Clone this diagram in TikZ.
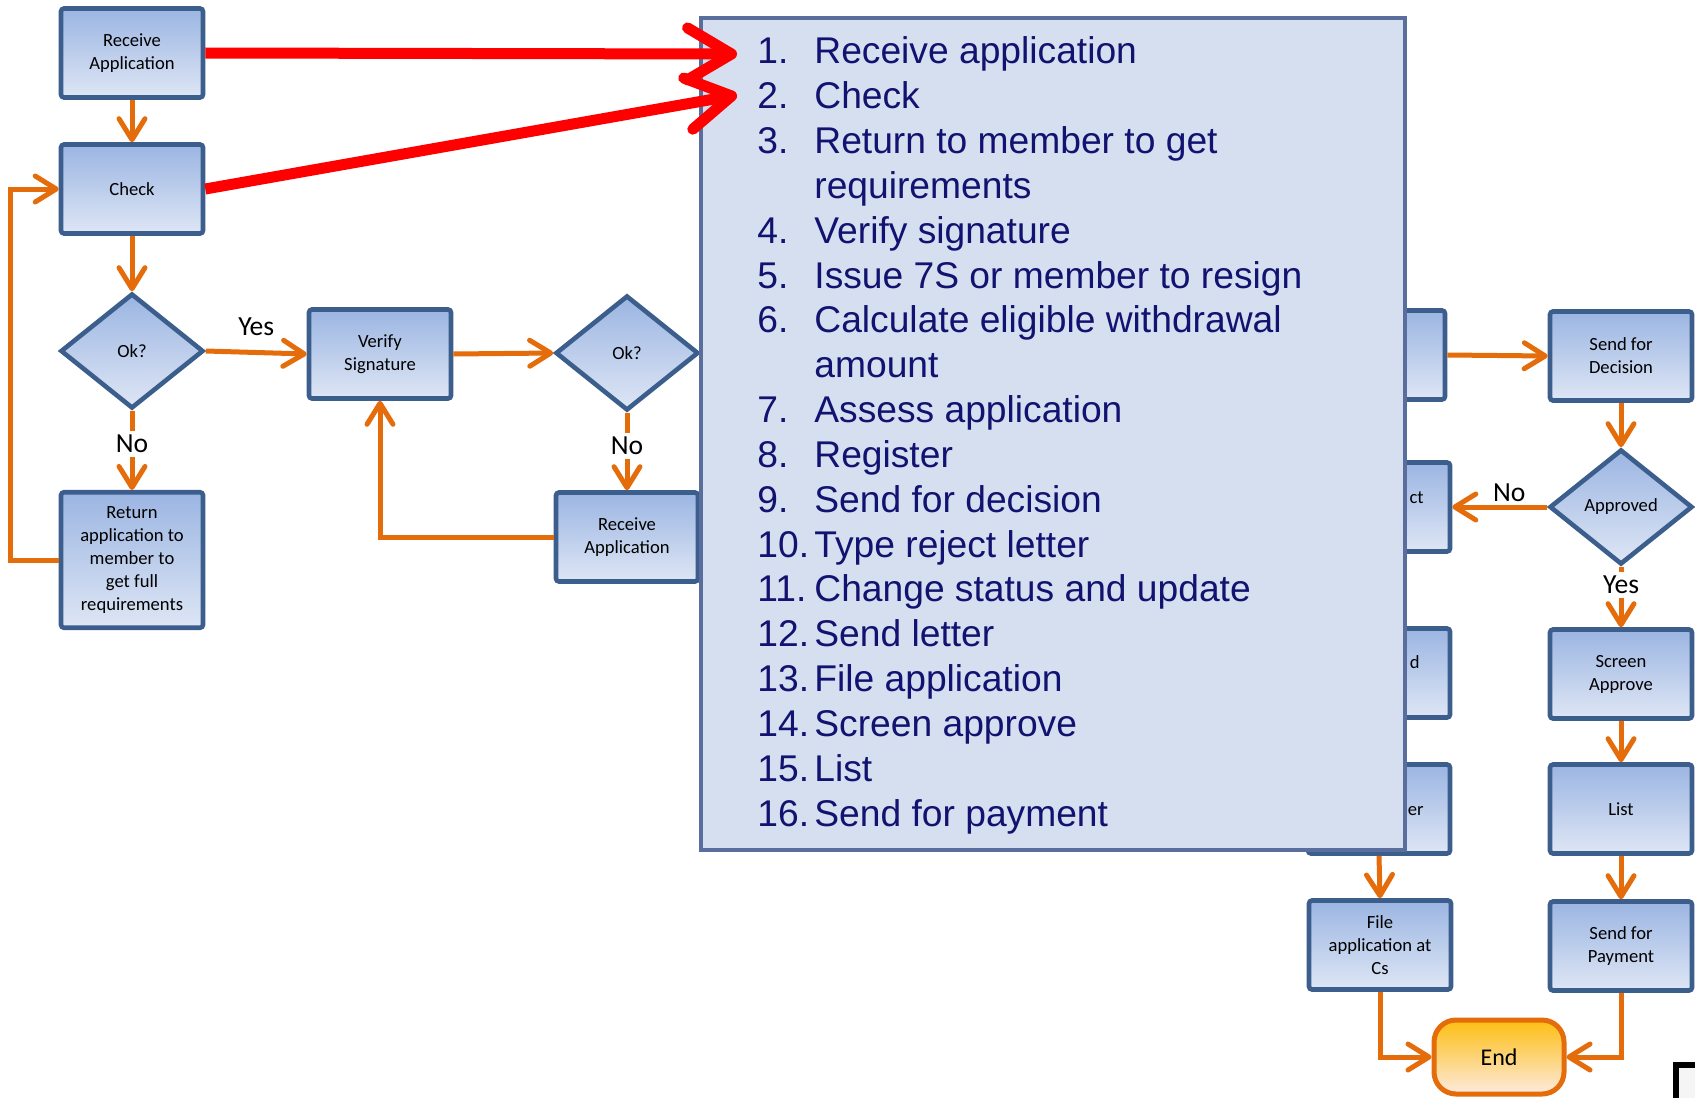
\documentclass[tikz,border=0pt]{standalone}
\usepackage{fontspec}
\setmainfont{Carlito}
\newfontfamily\listfont{Liberation Sans}
\usetikzlibrary{arrows.meta,shapes.geometric,shapes.misc}

\definecolor{boxtop}{RGB}{155,181,226}
\definecolor{boxbot}{RGB}{222,230,245}
\definecolor{boxedge}{RGB}{60,94,140}
\definecolor{flow}{RGB}{228,108,10}
\definecolor{panelfill}{RGB}{214,223,239}
\definecolor{paneledge}{RGB}{90,110,158}
\definecolor{paneltext}{RGB}{18,18,112}
\definecolor{endtop}{RGB}{253,190,18}
\definecolor{endmid}{RGB}{251,212,170}
\definecolor{endbot}{RGB}{253,234,222}

\begin{document}
\begin{tikzpicture}[x=0.5pt,y=-0.5pt,
  stepbox/.style={rectangle, rounded corners=1.5pt, draw=boxedge, line width=2.3pt,
    top color=boxtop, bottom color=boxbot, minimum width=71pt, minimum height=44.5pt,
    inner sep=2pt, align=center, font=\fontsize{9.3}{11.5}\selectfont},
  decide/.style={diamond, draw=boxedge, line width=2.3pt, top color=boxtop,
    bottom color=boxbot, minimum width=71.5pt, minimum height=57.5pt, inner sep=0pt,
    font=\fontsize{9.3}{11.5}\selectfont},
  flowarrow/.style={draw=flow, line width=2.5pt, -{Straight Barb[length=10.5pt,width=13pt,round]}},
  lab/.style={font=\fontsize{13.8}{16}\selectfont, inner sep=1.5pt},
  gaplab/.style={lab, fill=white, inner sep=2pt},
  frag/.style={font=\fontsize{9.3}{11.5}\selectfont, inner sep=0pt, anchor=base east},
  pointer/.style={draw=red, line width=5.5pt, -{Straight Barb[length=22pt,width=26pt,round]}},
  listtext/.style={font=\listfont\fontsize{18.6}{22}\selectfont, text=paneltext, inner sep=0pt, anchor=base west}
]
\useasboundingbox (0,0) rectangle (1695,1097);
\clip (0,0) rectangle (1695,1097);

% left part of the flow
\node[stepbox] (recv) at (132,53) {Receive\\Application};
\node[stepbox] (check) at (132,189) {Check};
\node[decide] (ok1) at (132,351) {Ok?};
\node[stepbox] (verify) at (380,354) {Verify\\Signature};
\node[decide] (ok2) at (627,353) {Ok?};
\node[stepbox, minimum height=67.75pt] (ret) at (132,560) {Return\\application to\\member to\\get full\\requirements};
\node[stepbox] (recv2) at (627,537) {Receive\\Application};

\draw[flowarrow] (recv) -- (check);
\draw[flowarrow] (check) -- (ok1);
\draw[flowarrow] (ok1.east) -- node[lab, yshift=13pt] (yes1) {Yes} (verify.west);
\draw[flowarrow] (ok1.south) -- node[gaplab, pos=0.42] (no1) {No} (ret.north);
\draw[flowarrow] (ret.west) -- ++(-48,0) |- (check.west);
\draw[flowarrow] (verify.east) -- (ok2.west);
\draw[flowarrow] (ok2.south) -- node[gaplab, pos=0.43] (no2) {No} (recv2.north);
\draw[flowarrow] (recv2.west) -| (verify.south);

% right part of the flow
\node[stepbox] (reg) at (1374,355) {};
\node[stepbox] (rej) at (1379,507) {};
\node[stepbox] (upd) at (1379,673) {};
\node[stepbox] (sendl) at (1379,809) {};
\node[stepbox] (file) at (1380,945) {File\\application at\\Cs};
\node[stepbox] (sfd) at (1621,356) {Send for\\Decision};
\node[decide] (appr) at (1621,507) {Approved};
\node[stepbox] (screen) at (1621,674) {Screen\\Approve};
\node[stepbox] (list) at (1621,809) {List};
\node[stepbox] (pay) at (1621,946) {Send for\\Payment};
\node[rectangle, rounded corners=11pt, draw=flow, line width=2.5pt, top color=endtop,
  middle color=endmid, bottom color=endbot, minimum width=65pt, minimum height=37pt,
  font=\fontsize{12}{14}\selectfont] (end) at (1499,1057) {End};

\node[frag] (rejfrag) at (1424,503) {ct};
\node[frag] (updfrag) at (1420,668) {d};
\node[frag] (sendlfrag) at (1424,815) {er};

\draw[flowarrow] (reg.east) -- (sfd.west);
\draw[flowarrow] (sfd) -- (appr);
\draw[flowarrow] (appr.west) -- node[lab, pos=0.4, yshift=7pt] (no3) {No} (rej.east);
\draw[flowarrow] (appr.south) -- node[gaplab, pos=0.3] (yes2) {Yes} (screen.north);
\draw[flowarrow] (screen) -- (list);
\draw[flowarrow] (list) -- (pay);
\draw[flowarrow] (sendl.south) -- (file.north);
\draw[flowarrow] (file.south) |- (end.west);
\draw[flowarrow] (pay.south) |- (end.east);

% step list panel
\node[draw=paneledge, fill=panelfill, line width=2pt, minimum width=352pt,
  minimum height=416pt, inner sep=0pt] (panel) at (1053,434) {};

\foreach \i/\n in {0/1., 1/2., 2/3., 4/4., 5/5., 6/6., 8/7., 9/8., 10/9., 11/10.,
    12/11., 13/12., 14/13., 15/14., 16/15., 17/16.}
  \node[listtext] (num\i) at (757, 64+44.83*\i) {\n};
\foreach \i/\t in {0/Receive application, 1/Check, 2/Return to member to get,
    3/requirements, 4/Verify signature, 5/Issue 7S or member to resign,
    6/Calculate eligible withdrawal, 7/amount, 8/Assess application, 9/Register,
    10/Send for decision, 11/Type reject letter, 12/Change status and update,
    13/Send letter, 14/File application, 15/Screen approve, 16/List,
    17/Send for payment}
  \node[listtext] (item\i) at (814, 64+44.83*\i) {\t};

% pointers into the list
\coordinate (tip1) at (737,54);
\coordinate (tip2) at (737,95);
\draw[pointer] (recv.east) -- (tip1);
\draw[pointer] (check.east) -- (tip2);

% corner of a frame at the page edge
\draw[line width=3pt, fill=gray!8] (1676,1065) rectangle (1720,1120);
\end{tikzpicture}
\end{document}
